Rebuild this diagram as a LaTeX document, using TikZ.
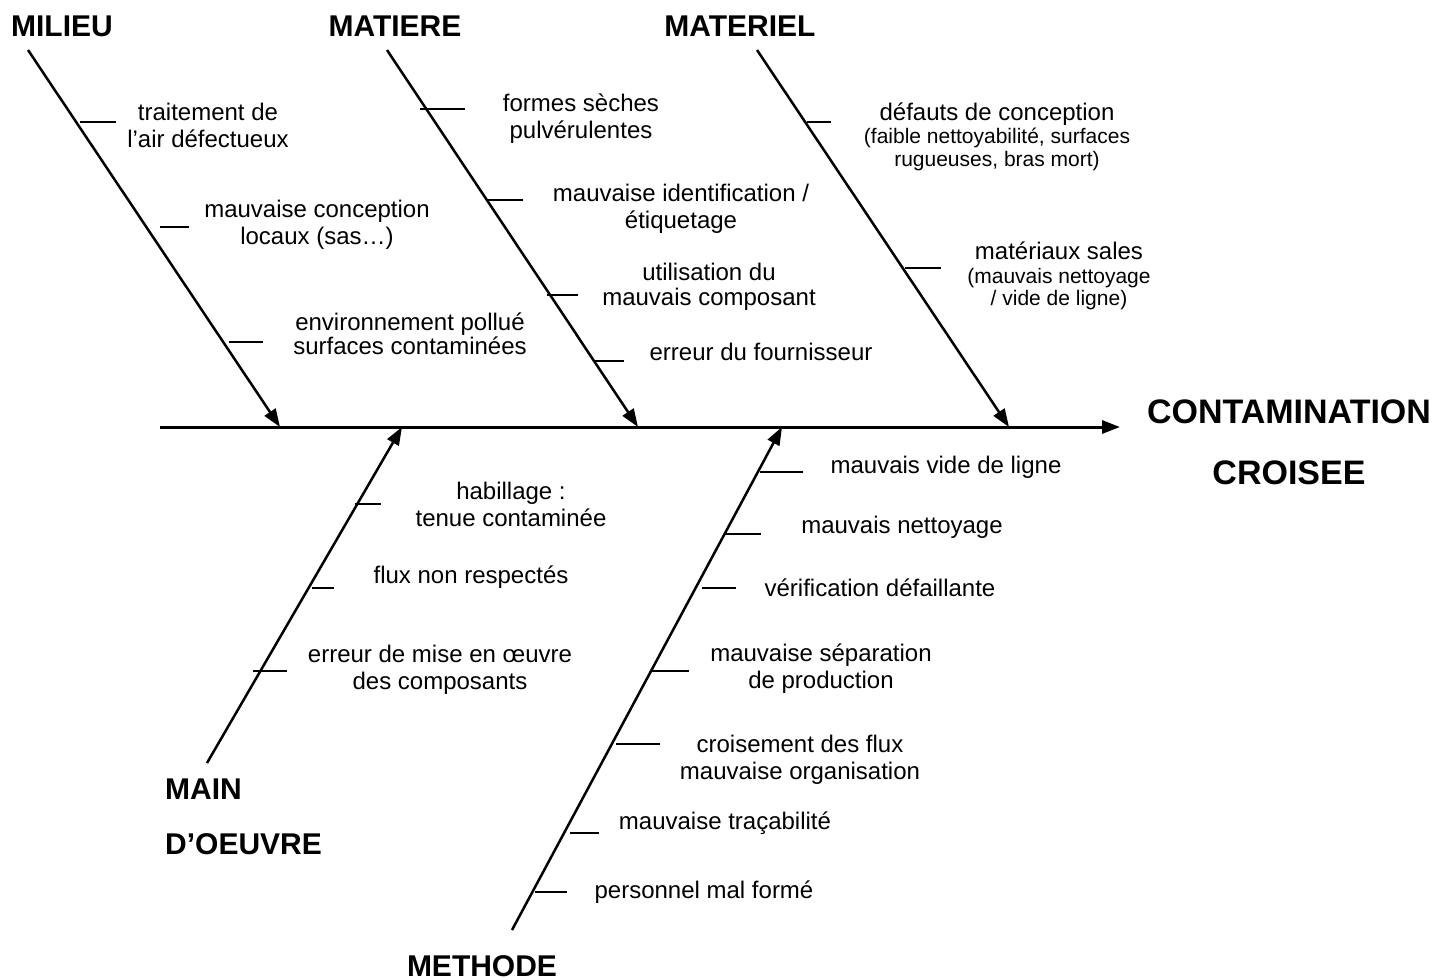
\documentclass[tikz,border=0pt]{standalone}
\usepackage{fontspec}
\setmainfont{Liberation Sans}
\usetikzlibrary{arrows.meta}
\newcommand{\petit}{\fontsize{21}{23}\selectfont}
\tikzset{
  bone/.style={line width=2.5pt,-{Triangle[length=18pt,width=13pt]}},
  rib/.style={line width=1.8pt},
  cause/.style={font=\fontsize{24}{27}\selectfont,align=center,inner sep=0pt},
  family/.style={font=\fontsize{30}{36}\selectfont\bfseries,inner sep=0pt},
}

\begin{document}
\begin{tikzpicture}[x=1pt,y=-1pt]
            \useasboundingbox (0,0) rectangle (1438,980);
            % arretes
            \coordinate (spine0) at (160,427);
            \coordinate (spine1) at (1120,427);
            \coordinate (milieu0) at (28,50);
            \coordinate (milieu1) at (280,427);
            \coordinate (matiere0) at (387,50);
            \coordinate (matiere1) at (638,427);
            \coordinate (materiel0) at (757,50);
            \coordinate (materiel1) at (1009,427);
            \coordinate (main0) at (207,763);
            \coordinate (main1) at (402,427);
            \coordinate (methode0) at (512,930);
            \coordinate (methode1) at (782,427);
            \draw[bone,line width=3pt] (spine0) -- (spine1);
            \draw[bone] (milieu0) -- (milieu1);
            \draw[bone] (matiere0) -- (matiere1);
            \draw[bone] (materiel0) -- (materiel1);
            \draw[bone] (main0) -- (main1);
            \draw[bone] (methode0) -- (methode1);
            % petits traits
            \foreach \xa/\xb/\y in {80/116/122, 160/189/227, 229/263/342,
                420/465/109, 487/523/200, 547/578/295, 595/624/361,
                807/831/122, 905/941/268,
                355/381/504, 312/334/588, 253/287/671,
                760/803/472, 725/761/534, 702/736/588, 651/689/671,
                616/660/744, 570/599/833, 535/567/892}
                \draw[rib] (\xa,\y) -- (\xb,\y);
            % familles
            \node[family] (milieu) at (62,26) {MILIEU};
            \node[family] (matiere) at (395,26) {MATIERE};
            \node[family] (materiel) at (740,26) {MATERIEL};
            \node[family,align=left,anchor=west] (main) at (165,817) {MAIN\\[19pt]D’OEUVRE};
            \node[family] (methode) at (482,966) {METHODE};
            \node[family,align=center,font=\fontsize{34}{36}\selectfont\bfseries] (effet) at (1289,442) {CONTAMINATION\\[25pt]CROISEE};
            % causes
            \node[cause] (air) at (208,125) {traitement de\\l’air défectueux};
            \node[cause] (locaux) at (317,225) {mauvaise conception\\locaux (sas…)};
            \node[cause] (environnement) at (410,334) {environnement pollué\\[-3pt]surfaces contaminées};
            \node[cause] (formes) at (581,119) {formes sèches\\pulvérulentes};
            \node[cause] (identification) at (681,209) {mauvaise identification /\\étiquetage};
            \node[cause] (composant) at (709,287) {utilisation du\\[-2pt]mauvais composant};
            \node[cause] (fournisseur) at (761,352) {erreur du fournisseur};
            \node[cause] (conception) at (997,137) {défauts de conception\\[-4pt]\petit(faible nettoyabilité, surfaces\\[-4pt]\petit rugueuses, bras mort)};
            \node[cause] (materiaux) at (1059,276) {matériaux sales\\[-3pt]\petit(mauvais nettoyage\\[-5pt]\petit / vide de ligne)};
            \node[cause] (habillage) at (511,504) {habillage :\\tenue contaminée};
            \node[cause] (flux) at (471,577) {flux non respectés};
            \node[cause] (mise) at (440,670) {erreur de mise en œuvre\\des composants};
            \node[cause] (vide) at (946,467) {mauvais vide de ligne};
            \node[cause] (nettoyage) at (902,527) {mauvais nettoyage};
            \node[cause] (verification) at (880,588) {vérification défaillante};
            \node[cause] (separation) at (821,669) {mauvaise séparation\\de production};
            \node[cause] (croisement) at (800,760) {croisement des flux\\mauvaise organisation};
            \node[cause] (tracabilite) at (725,823) {mauvaise traçabilité};
            \node[cause] (personnel) at (704,892) {personnel mal formé};
        \end{tikzpicture}
\end{document}
